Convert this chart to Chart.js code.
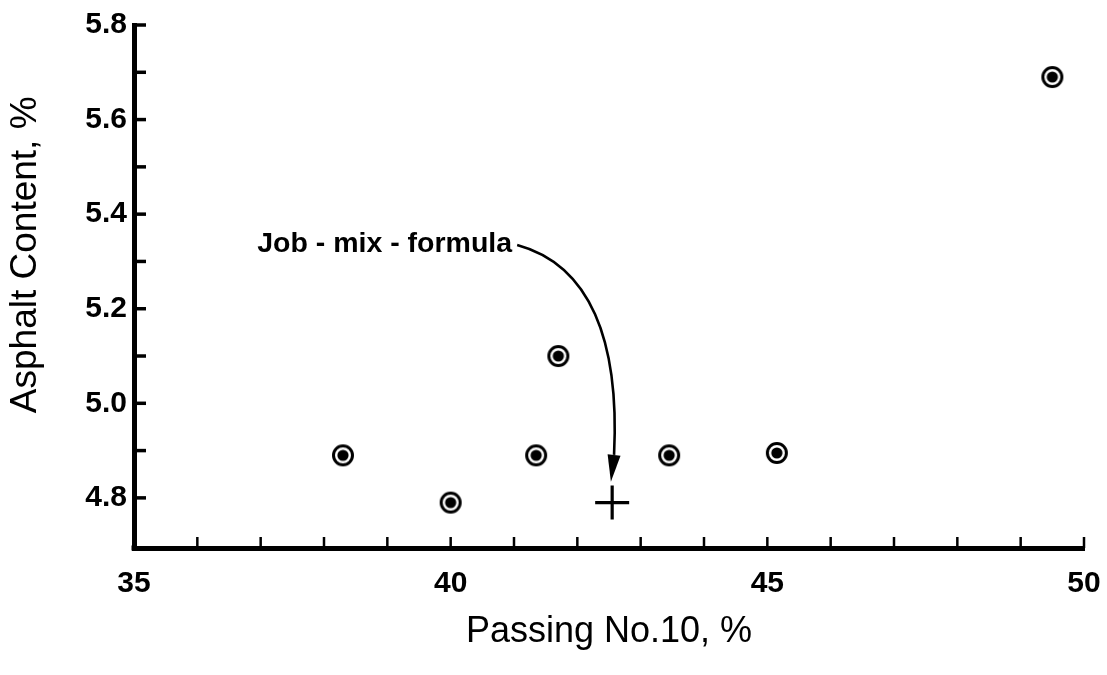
<!DOCTYPE html>
<html>
<head>
<meta charset="utf-8">
<title>Asphalt content vs passing No.10</title>
<script src="https://cdn.jsdelivr.net/npm/chart.js@4.4.0/dist/chart.umd.min.js"></script>
<style>
  html, body { margin: 0; padding: 0; background: #fff; }
  #wrap { width: 1107px; height: 675px; }
</style>
</head>
<body>
<div id="wrap"><canvas id="chart"></canvas></div>
<script>
(function() {
  'use strict';

  // ── Data ──
  var passing = [38.3, 40.0, 41.35, 41.7, 43.45, 45.15, 49.5];
  var asphalt = [4.89, 4.79, 4.89, 5.10, 4.89, 4.895, 5.69];

  var jmfPassing = [42.55];
  var jmfAsphalt = [4.79];

  // ── Axes ──
  var xTicks = [35, 36, 37, 38, 39, 40, 41, 42, 43, 44, 45, 46, 47, 48, 49, 50];
  var xLabels = [35, 40, 45, 50];
  var yTicks = [4.8, 4.9, 5.0, 5.1, 5.2, 5.3, 5.4, 5.5, 5.6, 5.7, 5.8];
  var yLabels = [4.8, 5.0, 5.2, 5.4, 5.6, 5.8];
  var yTitle = 'Asphalt Content, %';
  var yTitleCenter = 5.314;   // title sits a little above the axis middle

  // ── Annotation (data units) ──
  var noteText = 'Job - mix - formula';
  var noteAnchor = [40.97, 5.337];
  var arrowPath = [[41.05, 5.335], [42.2, 5.293], [42.67, 5.134], [42.58, 4.891]];
  var arrowTip = [42.53, 4.834];

  var FONT = '"Liberation Sans", Arial, Helvetica, sans-serif';
  var INK = '#000';

  // ── Circled-dot marker ──
  function ringDot() {
    var c = document.createElement('canvas');
    c.width = 26; c.height = 26;
    var g = c.getContext('2d');
    g.fillStyle = '#fff';
    g.beginPath(); g.arc(13, 13, 11.5, 0, Math.PI * 2); g.fill();
    g.strokeStyle = INK; g.lineWidth = 3;
    g.beginPath(); g.arc(13, 13, 9.5, 0, Math.PI * 2); g.stroke();
    g.fillStyle = INK;
    g.beginPath(); g.arc(13, 13, 5.6, 0, Math.PI * 2); g.fill();
    return c;
  }

  function toPoints(xs, ys) {
    var out = [];
    for (var i = 0; i < xs.length; i++) out.push({ x: xs[i], y: ys[i] });
    return out;
  }

  function asTicks(list) {
    return list.map(function(v) { return { value: v }; });
  }

  // ── Inward tick marks + y title ──
  var axisPlugin = {
    id: 'axisExtras',
    afterDraw: function(chart) {
      var ctx = chart.ctx;
      var area = chart.chartArea;
      var xs = chart.scales.x, ys = chart.scales.y;
      ctx.save();
      ctx.strokeStyle = INK;
      ctx.lineCap = 'butt';

      ctx.lineWidth = 2.5;
      xs.ticks.forEach(function(t) {
        if (t.value === xs.min) return;
        var px = xs.getPixelForValue(t.value);
        ctx.beginPath();
        ctx.moveTo(px, area.bottom);
        ctx.lineTo(px, area.bottom - 11);
        ctx.stroke();
      });

      ctx.lineWidth = 3.5;
      ys.ticks.forEach(function(t) {
        var py = ys.getPixelForValue(t.value);
        ctx.beginPath();
        ctx.moveTo(area.left, py);
        ctx.lineTo(area.left + 12, py);
        ctx.stroke();
      });

      ctx.fillStyle = INK;
      ctx.fillRect(area.left - 2.5, area.bottom - 2.5, 5, 5);

      ctx.font = '37px ' + FONT;
      ctx.textAlign = 'center';
      ctx.textBaseline = 'middle';
      ctx.translate(ys.left + 26, ys.getPixelForValue(yTitleCenter));
      ctx.rotate(-Math.PI / 2);
      ctx.fillText(yTitle, 0, 0);
      ctx.restore();
    }
  };

  // ── Job-mix-formula label and curved arrow ──
  var notePlugin = {
    id: 'jmfNote',
    afterDatasetsDraw: function(chart) {
      var ctx = chart.ctx;
      var xs = chart.scales.x, ys = chart.scales.y;
      function P(pt) { return [xs.getPixelForValue(pt[0]), ys.getPixelForValue(pt[1])]; }

      ctx.save();
      ctx.fillStyle = INK;
      ctx.font = 'bold 28.5px ' + FONT;
      ctx.textAlign = 'right';
      ctx.textBaseline = 'middle';
      var a = P(noteAnchor);
      ctx.fillText(noteText, a[0], a[1]);

      var p0 = P(arrowPath[0]), c1 = P(arrowPath[1]), c2 = P(arrowPath[2]), p3 = P(arrowPath[3]);
      ctx.strokeStyle = INK;
      ctx.lineWidth = 2.6;
      ctx.beginPath();
      ctx.moveTo(p0[0], p0[1]);
      ctx.bezierCurveTo(c1[0], c1[1], c2[0], c2[1], p3[0], p3[1]);
      ctx.stroke();

      var tip = P(arrowTip);
      var dx = tip[0] - p3[0], dy = tip[1] - p3[1];
      var len = Math.sqrt(dx * dx + dy * dy);
      var ux = dx / len, uy = dy / len;
      var back = 27, half = 6.5;
      var bx = tip[0] - ux * back, by = tip[1] - uy * back;
      ctx.beginPath();
      ctx.moveTo(tip[0], tip[1]);
      ctx.lineTo(bx - uy * half, by + ux * half);
      ctx.lineTo(bx + uy * half, by - ux * half);
      ctx.closePath();
      ctx.fill();
      ctx.restore();
    }
  };

  new Chart(document.getElementById('chart'), {
    type: 'scatter',
    data: {
      datasets: [
        {
          label: 'Samples',
          data: toPoints(passing, asphalt),
          pointStyle: ringDot(),
          pointRadius: 13,
          pointHoverRadius: 13
        },
        {
          label: 'Job-mix formula',
          data: toPoints(jmfPassing, jmfAsphalt),
          pointStyle: 'cross',
          pointRadius: 17,
          pointHoverRadius: 17,
          borderColor: INK,
          borderWidth: 3.2
        }
      ]
    },
    options: {
      responsive: true,
      maintainAspectRatio: false,
      animation: false,
      events: [],
      layout: { padding: { top: 25, right: 23, bottom: 0, left: 0 } },
      plugins: {
        legend: { display: false },
        tooltip: { enabled: false }
      },
      scales: {
        x: {
          type: 'linear',
          min: 35,
          max: 50,
          afterBuildTicks: function(scale) { scale.ticks = asTicks(xTicks); },
          afterFit: function(scale) {
            scale.height = 127;
            scale.paddingLeft = 0;
            scale.paddingRight = 0;
          },
          grid: { display: false, drawTicks: false },
          border: { display: true, color: INK, width: 5 },
          ticks: {
            autoSkip: false,
            maxRotation: 0,
            padding: 18,
            color: INK,
            font: { family: FONT, size: 30, weight: 'bold' },
            callback: function(v) { return xLabels.indexOf(v) >= 0 ? String(v) : ''; }
          },
          title: {
            display: true,
            text: 'Passing No.10, %',
            color: INK,
            font: { family: FONT, size: 36 },
            padding: { top: 0, bottom: 21 }
          }
        },
        y: {
          type: 'linear',
          min: 4.694,
          max: 5.8,
          afterBuildTicks: function(scale) { scale.ticks = asTicks(yTicks); },
          afterFit: function(scale) {
            scale.width = 134;
            scale.paddingTop = 0;
            scale.paddingBottom = 0;
          },
          grid: { display: false, drawTicks: false },
          border: { display: true, color: INK, width: 5 },
          ticks: {
            autoSkip: false,
            padding: 7,
            color: INK,
            font: { family: FONT, size: 30, weight: 'bold' },
            callback: function(v) {
              for (var i = 0; i < yLabels.length; i++) {
                if (Math.abs(yLabels[i] - v) < 1e-6) return v.toFixed(1);
              }
              return '';
            }
          }
        }
      }
    },
    plugins: [axisPlugin, notePlugin]
  });
})();
</script>
</body>
</html>
